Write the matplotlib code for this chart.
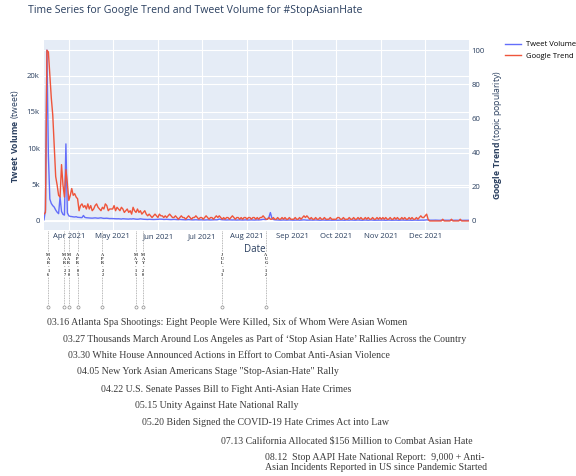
import numpy as np
import pandas as pd
import matplotlib
matplotlib.use('Agg')
import matplotlib.pyplot as plt
import matplotlib.dates as mdates
from matplotlib import transforms
from matplotlib.lines import Line2D

plt.rcParams['font.family'] = ['Open Sans', 'DejaVu Sans']
plt.rcParams['mathtext.fontset'] = 'custom'
plt.rcParams['mathtext.rm'] = 'Open Sans'
plt.rcParams['mathtext.bf'] = 'Open Sans:bold'

# ---------------- data ----------------
start_date = '2021-03-15'
end_date = '2021-12-31'

tweets_mar = [150, 1500, 23500, 9000, 3000, 2400, 2100, 1900, 1500, 1200, 1000, 3300, 1300, 900, 800, 10600, 1100]
tweets_apr = [700, 620, 600, 560, 540, 580, 500, 480, 460, 450, 750, 480, 440, 420, 400, 390, 380, 400, 420, 390,
              370, 400, 430, 380, 350, 360, 370, 340, 320, 330]
tweets_may = [320, 300, 310, 290, 300, 280, 260, 300, 280, 270, 260, 250, 280, 260, 300, 270, 240, 230, 250, 290,
              260, 230, 220, 210, 200, 220, 210, 200, 190, 200, 210]
tweets_jun = [220, 250, 240, 230, 200, 210, 220, 200, 190, 180, 200, 210, 190, 180, 170, 200, 180, 170, 160, 150,
              170, 180, 160, 150, 140, 150, 160, 150, 140, 150]
tweets_jul = [150, 140, 130, 140, 150, 140, 130, 140, 150, 160, 150, 170, 260, 190, 160, 150, 140, 130, 140, 150,
              140, 130, 140, 130, 120, 130, 140, 130, 120, 130, 140]
tweets_aug = [130, 120, 130, 140, 130, 120, 130, 140, 130, 150, 170, 220, 200, 180, 250, 500, 1150, 400, 200, 150,
              140, 130, 120, 110, 120, 130, 120, 110, 120, 130, 120]
tweets_sep = [120, 105, 115, 135, 120, 100, 110, 130, 145, 120, 105, 115, 130, 120, 105, 125, 130, 115, 100, 95,
              110, 125, 110, 100, 105, 120, 110, 95, 105, 115]
tweets_oct = [110, 95, 105, 125, 115, 100, 90, 120, 110, 100, 130, 115, 105, 95, 110, 125, 105, 100, 90, 115,
              120, 100, 95, 110, 130, 105, 95, 100, 115, 110, 100]
tweets_nov = [105, 115, 100, 90, 110, 120, 100, 95, 105, 115, 110, 100, 90, 105, 120, 110, 95, 100, 110, 105,
              95, 90, 110, 115, 100, 95, 105, 120, 110, 100]
tweets_dec = [130, 150, 120, 100, 95, 90, 100, 110, 95, 90, 85, 100, 95, 90, 85, 90, 100, 95, 85, 80,
              90, 95, 85, 80, 75, 80, 90, 85, 80, 85, 90]

trend_mar = [4, 5, 100, 99, 85, 72, 62, 44, 26, 21, 15, 14, 33, 21, 14, 30, 22]
trend_apr = [12, 15, 19, 15, 16, 14, 13, 6, 9, 10, 8, 9, 7, 10, 7, 9, 6, 7, 9, 10, 8, 7, 6, 8, 7, 10, 9, 6, 7, 7]
trend_may = [7, 9, 6, 8, 7, 6, 8, 7, 5, 6, 7, 5, 6, 4, 8, 6, 5, 7, 5, 6, 4, 5, 6, 4, 3, 4, 3, 2, 3, 4, 3]
trend_jun = [2, 4, 3, 3, 2, 3, 2, 3, 4, 3, 2, 2, 3, 2, 1, 2, 3, 2, 2, 1, 2, 3, 2, 1, 2, 2, 3, 2, 1, 2]
trend_jul = [2, 1, 2, 3, 2, 1, 2, 2, 1, 2, 3, 2, 3, 2, 1, 2, 1, 2, 2, 1, 2, 3, 2, 1, 2, 2, 1, 2, 1, 2, 2]
trend_aug = [1, 2, 2, 1, 2, 2, 1, 2, 1, 2, 2, 3, 2, 1, 1, 2, 1, 1, 2, 1, 1, 2, 1, 1, 2, 1, 2, 1, 1, 2, 1]
trend_sep = [1, 1, 2, 1, 1, 2, 1, 2, 3, 2, 3, 2, 1, 2, 1, 1, 2, 1, 1, 2, 1, 1, 2, 1, 1, 1, 2, 1, 1, 1]
trend_oct = [1, 2, 2, 1, 1, 2, 1, 1, 1, 2, 1, 1, 2, 1, 1, 2, 1, 2, 1, 1, 2, 1, 2, 1, 1, 2, 1, 1, 2, 1, 2]
trend_nov = [1, 2, 1, 2, 1, 1, 2, 1, 1, 2, 1, 2, 1, 1, 2, 1, 2, 1, 1, 2, 1, 2, 1, 1, 2, 1, 2, 3, 2, 2]
trend_dec = [3, 4, 1, 0, 0, 0, 0, 0, 0, 0, 0, 0, 1, 0, 0, 0, 0, 0, 1, 0, 0, 0, 0, 0, 1, 0, 0, 0, 0, 0, 0]

tweet_volume = (tweets_mar + tweets_apr + tweets_may + tweets_jun + tweets_jul + tweets_aug +
                tweets_sep + tweets_oct + tweets_nov + tweets_dec)
google_trend = (trend_mar + trend_apr + trend_may + trend_jun + trend_jul + trend_aug +
                trend_sep + trend_oct + trend_nov + trend_dec)
dates = pd.date_range(start_date, end_date, freq='D')

left_ticks = [0, 5000, 10000, 15000, 20000]
left_ticklabels = ['0', '5k', '10k', '15k', '20k']
right_ticks = [0, 20, 40, 60, 80, 100]
right_ticklabels = ['0', '20', '40', '60', '80', '100']
month_ticks = pd.date_range('2021-04-01', '2021-12-01', freq='MS')

event_codes = ['MAR-16', 'MAR-27', 'MAR-30', 'APR-05', 'APR-22', 'MAY-15', 'MAY-20', 'JUL-13', 'AUG-12']
event_dates = ['2021-03-16', '2021-03-27', '2021-03-30', '2021-04-05', '2021-04-22',
               '2021-05-15', '2021-05-20', '2021-07-13', '2021-08-12']
event_texts = [
    '03.16 Atlanta Spa Shootings: Eight People Were Killed, Six of Whom Were Asian Women',
    "03.27 Thousands March Around Los Angeles as Part of \u2018Stop Asian Hate\u2019 Rallies Across the Country",
    '03.30 White House Announced Actions in Effort to Combat Anti-Asian Violence',
    '04.05 New York Asian Americans Stage "Stop-Asian-Hate" Rally',
    '04.22 U.S. Senate Passes Bill to Fight Anti-Asian Hate Crimes',
    '05.15 Unity Against Hate National Rally',
    '05.20 Biden Signed the COVID-19 Hate Crimes Act into Law',
    '07.13 California Allocated $156 Million to Combat Asian Hate',
    '08.12  Stop AAPI Hate National Report:  9,000 + Anti-\nAsian Incidents Reported in US since Pandemic Started',
]
event_text_y = [322, 339, 355.5, 371.5, 389, 405.5, 422.5, 440.5, 462.5]

# ---------------- style ----------------
BLUE = '#636EFA'
RED = '#EF553B'
BG = '#E5ECF6'
TXT = '#2a3f5f'
W, H = 576, 476


def fx(px):
    return px / W


def fy(px):
    return 1 - px / H


fig = plt.figure(figsize=(W / 100, H / 100), dpi=100)
ax = fig.add_axes([fx(44), fy(230), fx(469) - fx(44), fy(40) - fy(230)])
ax.set_facecolor(BG)
ax2 = ax.twinx()

ax.plot(dates, tweet_volume, color=BLUE, lw=1.0, zorder=3)
ax2.plot(dates, google_trend, color=RED, lw=1.0, zorder=3)

ax.set_xlim(dates[0], dates[-1])
ax.set_ylim(-1250, 24900)
ax2.set_ylim(-5.3, 106)

for a in (ax, ax2):
    for s in a.spines.values():
        s.set_visible(False)
    a.tick_params(length=0, labelsize=5.6, colors=TXT)

ax.set_yticks(left_ticks, left_ticklabels)
ax2.set_yticks(right_ticks, right_ticklabels)
ax.set_xticks(month_ticks, [d.strftime('%b %Y') for d in month_ticks])
ax.tick_params(axis='y', pad=3)
ax2.tick_params(axis='y', pad=2)
ax.tick_params(axis='x', pad=2.5)

ax.set_axisbelow(True)
ax.grid(True, color='white', lw=0.8)
ax2.grid(False)
gtrans = transforms.blended_transform_factory(ax.transAxes, ax2.transData)
for v in right_ticks:
    ax.add_line(Line2D([0, 1], [v, v], transform=gtrans, color='white', lw=0.8, zorder=0.9))
ax.axhline(0, color='white', lw=1.4, zorder=1)

# titles
fig.text(fx(28), fy(10), 'Time Series for Google Trend and Tweet Volume for #StopAsianHate',
         fontsize=7.6, color=TXT, ha='left', va='center')
fig.text(fx(15), fy(136), r'$\bf{Tweet\ Volume}$ (tweet)', rotation=90, fontsize=6.2,
         color=TXT, ha='center', va='center')
fig.text(fx(497), fy(135), r'$\bf{Google\ Trend}$ (topic popularity)', rotation=90, fontsize=6.2,
         color=TXT, ha='center', va='center')
fig.text(fx(255), fy(250), 'Date', fontsize=7, color=TXT, ha='center', va='center')

# legend
handles = [Line2D([], [], color=BLUE, lw=1.0), Line2D([], [], color=RED, lw=1.0)]
fig.legend(handles, ['Tweet Volume', 'Google Trend'], loc='upper left',
           bbox_to_anchor=(fx(505), fy(41)), frameon=False, fontsize=5.5,
           handlelength=2.1, handletextpad=0.6, labelspacing=0.5,
           borderaxespad=0, borderpad=0)

# event markers below the axis
btrans = transforms.blended_transform_factory(ax.transData, fig.transFigure)
ann_trans = transforms.offset_copy(btrans, fig=fig, x=-1, y=0, units='dots')
line_shift = pd.Timedelta(days=2)
for code, d, txt, ty in zip(event_codes, event_dates, event_texts, event_text_y):
    xd = mdates.date2num(pd.Timestamp(d) + line_shift)
    fig.add_artist(Line2D([xd, xd], [fy(231), fy(305)], transform=btrans, color='#a0a0a0',
                          lw=0.6, ls=(0, (1, 1)), zorder=1))
    fig.add_artist(Line2D([xd], [fy(306.5)], transform=btrans, marker='o', ms=2.2,
                          mfc='white', mec='#8a8a8a', mew=0.5, ls='none', zorder=2))
    fig.text(xd, fy(252.5), '\n'.join(list(code)), transform=btrans, fontsize=3.1,
             family='Liberation Serif', fontweight='bold', color='#333333',
             ha='center', va='top', linespacing=1.0, zorder=3,
             bbox=dict(facecolor='white', edgecolor='none', pad=0.2))
    fig.text(xd, fy(ty), txt, transform=ann_trans, fontsize=7.1, family='Liberation Serif',
             color='#3a3a3a', ha='left', va='center', linespacing=1.15)

fig.savefig('out.png', dpi=100)
